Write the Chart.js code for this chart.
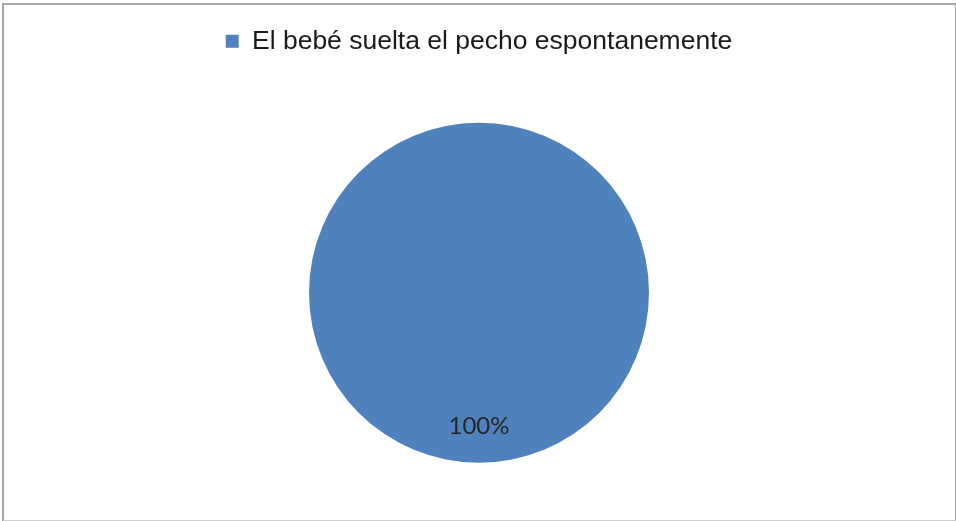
<!DOCTYPE html>
<html>
<head>
<meta charset="utf-8">
<script src="https://cdn.jsdelivr.net/npm/chart.js@4/dist/chart.umd.min.js"></script>
<style>
  html, body { margin: 0; padding: 0; background: #fff; }
  #wrap { position: relative; width: 956px; height: 521px; }
  #frame { position: absolute; left: 2px; top: 3px; width: 951px; height: 515px;
           border: 2px solid #a6a6a6; border-bottom-color: #d0d0d0; }
  canvas { position: absolute; left: 0; top: 0; }
</style>
</head>
<body>
<div id="wrap">
  <div id="frame"></div>
  <canvas id="torta" width="956" height="521"></canvas>
</div>
<script>
// Datos del gráfico
const categorias = ['El bebé suelta el pecho espontanemente'];
const valores = [100];
const colores = ['#4F81BD'];

// Etiqueta de porcentaje dentro del sector
const etiquetaPorcentaje = {
    id: 'etiquetaPorcentaje',
    afterDatasetsDraw(chart) {
        const ctx = chart.ctx;
        const meta = chart.getDatasetMeta(0);
        const total = valores.reduce((a, b) => a + b, 0);
        meta.data.forEach((arc, i) => {
            const p = arc.getProps(['x', 'y', 'startAngle', 'endAngle', 'outerRadius'], true);
            const medio = (p.startAngle + p.endAngle) / 2;
            const r = p.outerRadius * 0.785;
            const x = p.x + Math.cos(medio) * r;
            const y = p.y + Math.sin(medio) * r;
            ctx.save();
            ctx.font = '24px Lato, "Open Sans", sans-serif';
            ctx.fillStyle = '#262626';
            ctx.textAlign = 'center';
            ctx.textBaseline = 'middle';
            ctx.fillText(Math.round(valores[i] / total * 100) + '%', x, y);
            ctx.restore();
        });
    }
};

const ctx = document.getElementById('torta').getContext('2d');
new Chart(ctx, {
    type: 'pie',
    data: {
        labels: categorias,
        datasets: [{
            data: valores,
            backgroundColor: colores,
            borderWidth: 0,
            radius: 170
        }]
    },
    options: {
        responsive: false,
        animation: false,
        layout: { padding: { top: 20, bottom: -2, left: 2, right: 0 } },
        plugins: {
            tooltip: { enabled: false },
            legend: {
                position: 'top',
                labels: {
                    boxWidth: 13,
                    boxHeight: 13,
                    padding: 8,
                    color: '#1a1a1a',
                    font: { family: '"Liberation Sans", Arial, sans-serif', size: 26.5 }
                }
            }
        }
    },
    plugins: [etiquetaPorcentaje]
});
</script>
</body>
</html>
